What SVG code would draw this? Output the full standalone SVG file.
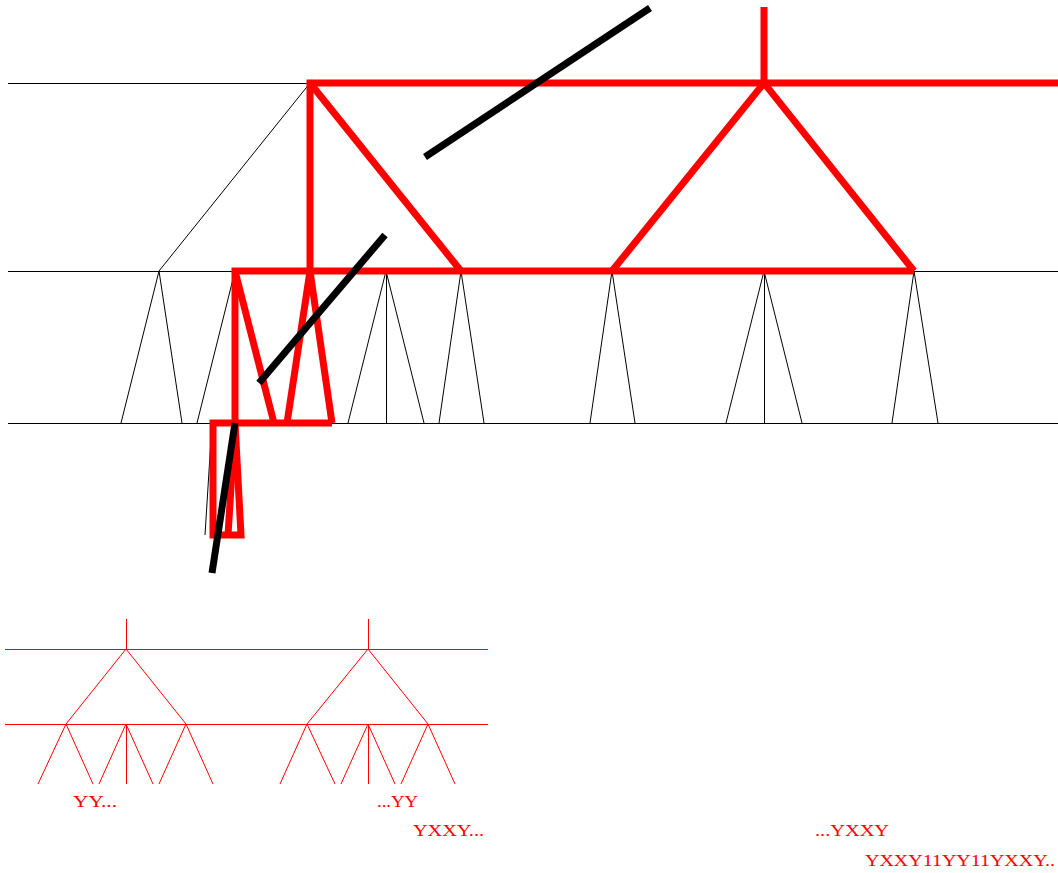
<svg xmlns="http://www.w3.org/2000/svg" width="1058" height="873" viewBox="0 0 1058 873">
<style>
.thin{stroke:#000;stroke-width:1;fill:none}
.red{stroke:#ff0000;stroke-width:7;fill:none;stroke-linejoin:miter;stroke-linecap:butt}
.blk{stroke:#000;stroke-width:7;fill:none;stroke-linecap:butt}
.rthin{stroke:#ff0000;stroke-width:1;fill:none}
.lbl{font-family:"Liberation Serif","Times New Roman",serif;font-size:16px;fill:#ff0000}
</style>
<rect width="1058" height="873" fill="#fff"/>
<g id="levels">
  <path class="thin" d="M8,83.5H310 M8,271.5H235 M914,271.5H1058 M8,423.5H1058"/>
</g>
<g id="connectors">
  <path class="thin" d="M310,83L159,271 M159,271L121,423 M159,271L182,423 M235,271L197,423 M386,271L348,423 M386.5,271V423 M386,271L424,423 M461,271L439,423 M461,271L484,423 M612,271L590,423 M612,271L635,423 M764,271L726,423 M764.5,271V423 M764,271L802,423 M914,271L892,423 M914,271L938,423 M212,423L205,535"/>
</g>
<g id="red-path">
  <path class="red" d="M310,271V83H1058"/>
  <path class="red" d="M764,7V83"/>
  <path class="red" d="M612,271L764,83L914,271"/>
  <path class="red" d="M310,83L461,271"/>
  <path class="red" d="M235,423V271H914"/>
  <path class="red" d="M235,271L274,423"/>
  <path class="red" d="M287,423L310,271L332,423"/>
  <path class="red" d="M332,423H213V535H241L235,423"/>
  <path class="red" d="M235,423L228,535"/>
</g>
<g id="strokes">
  <path class="blk" d="M425,157L650,8"/>
  <path class="blk" d="M259,383L385,235"/>
  <path class="blk" d="M235,423L212,573"/>
</g>
<g id="small-tree">
  <path class="rthin" d="M5,649.5H488 M5,724.5H488 M126.5,619V649 M368.5,619V649"/>
  <path class="rthin" d="M126,649.5H368" stroke-width="1.6"/>
  <path class="rthin" d="M126,649L66,724 M126,649L186,724 M368,649L307,724 M368,649L428,724"/>
  <path class="rthin" d="M66,724L38,784 M66,724L93,784 M126,724L99,784 M126.5,724V784 M126,724L153,784 M186,724L159,784 M186,724L213,784 M307,724L280,784 M307,724L335,784 M368,724L341,784 M368.5,724V784 M368,724L395,784 M428,724L401,784 M428,724L455,784"/>
</g>
<g id="labels">
  <text class="lbl" x="73" y="807" textLength="44" lengthAdjust="spacingAndGlyphs">YY...</text>
  <text class="lbl" x="377" y="807" textLength="41" lengthAdjust="spacingAndGlyphs">...YY</text>
  <text class="lbl" x="413" y="836" textLength="71" lengthAdjust="spacingAndGlyphs">YXXY...</text>
  <text class="lbl" x="815" y="836" textLength="74" lengthAdjust="spacingAndGlyphs">...YXXY</text>
  <text class="lbl" x="865" y="866" textLength="190" lengthAdjust="spacingAndGlyphs">YXXY11YY11YXXY..</text>
</g>
</svg>
